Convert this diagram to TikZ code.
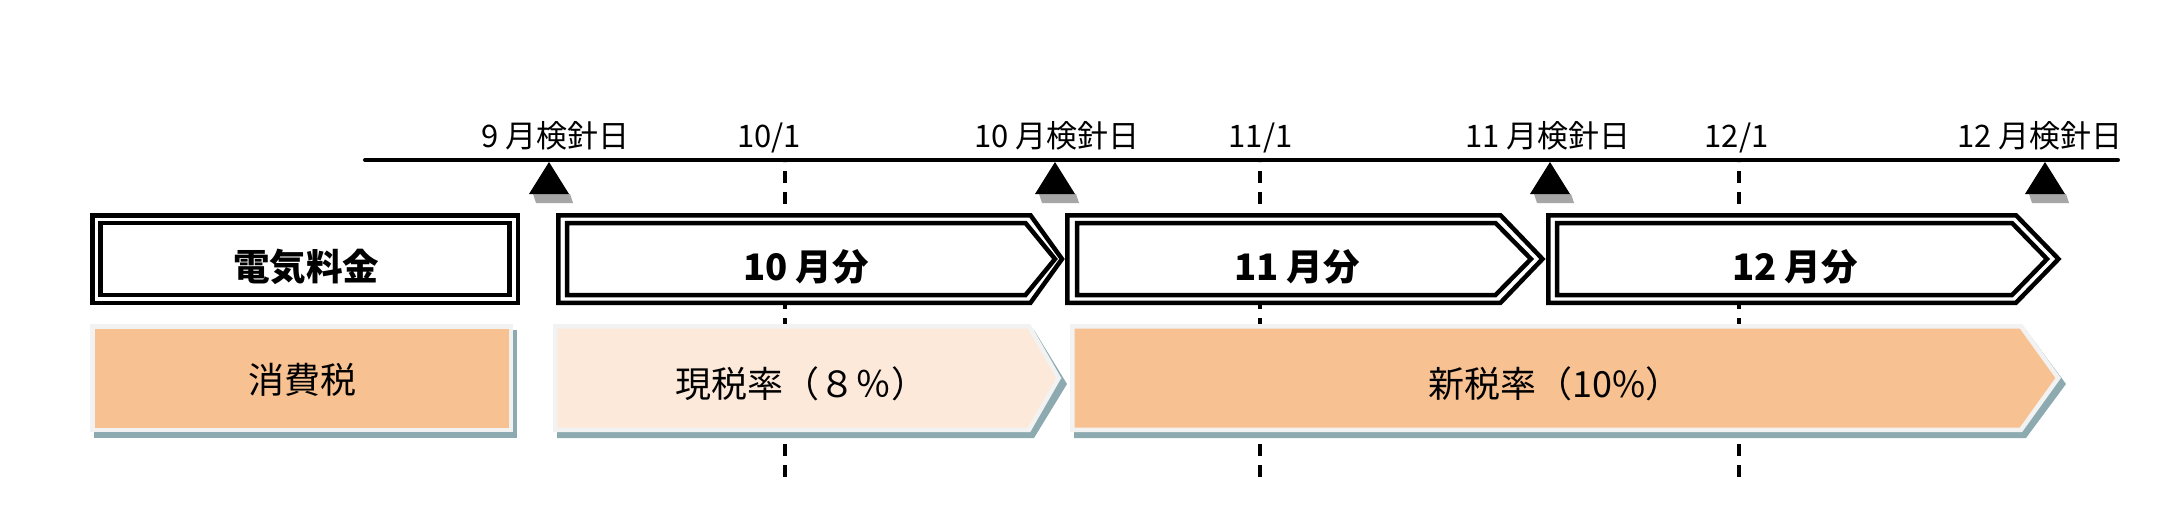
\documentclass[tikz,border=0pt]{standalone}
\usepackage{fontspec}
\newfontfamily\jpfont{Noto Sans CJK JP}
\definecolor{orangefill}{HTML}{F8C192}
\definecolor{peachfill}{HTML}{FCE9DA}
\definecolor{lightrim}{HTML}{F2F2F2}
\definecolor{boxshadow}{HTML}{8DAAB0}
\definecolor{markshadow}{HTML}{A6A6A6}
\tikzset{
  billline/.style={draw=black, line width=4.5pt, line join=miter, fill=white},
  billinner/.style={draw=black, line width=4.5pt, line join=miter},
  taxshape/.style={draw=lightrim, line width=4.5pt, line join=miter},
  taxshadow/.style={fill=boxshadow},
  datelabel/.style={anchor=base, inner sep=0pt, font=\jpfont\fontsize{31}{31}\selectfont},
  billlabel/.style={anchor=base, inner sep=0pt, font=\jpfont\bfseries\fontsize{36.5}{36.5}\selectfont},
  taxlabel/.style={anchor=base, inner sep=0pt, font=\jpfont\fontsize{36}{36}\selectfont},
  meterline/.style={line width=4pt, line cap=round},
  monthline/.style={line width=3.5pt, dash pattern=on 12.5pt off 8.5pt},
  readmark/.style={fill=black},
  readshadow/.style={fill=markshadow},
}
\begin{document}
\begin{tikzpicture}[x=1pt,y=-1pt]
\fill[white] (0,0) rectangle (2168,516);
% month boundaries (dashed)
\coordinate (d1top) at (785,162);  \coordinate (d1bot) at (785,477);
\coordinate (d2top) at (1260,162); \coordinate (d2bot) at (1260,477);
\coordinate (d3top) at (1739,162); \coordinate (d3bot) at (1739,477);
\draw[monthline] (d1bot) -- (d1top);
\draw[monthline] (d2bot) -- (d2top);
\draw[monthline] (d3bot) -- (d3top);
% time line
\coordinate (tlstart) at (365,160);
\coordinate (tlend) at (2118,160);
\draw[meterline] (tlstart) -- (tlend);
% meter reading marks
\fill[readshadow] (533,194) -- (570,194) -- (573,203) -- (536,203) -- cycle;
\fill[readmark] (549,162) -- (569,194) -- (529,194) -- cycle;
\fill[readshadow] (1039,194) -- (1076,194) -- (1079,203) -- (1042,203) -- cycle;
\fill[readmark] (1055,162) -- (1075,194) -- (1035,194) -- cycle;
\fill[readshadow] (1534,194) -- (1571,194) -- (1574,203) -- (1537,203) -- cycle;
\fill[readmark] (1550,162) -- (1570,194) -- (1530,194) -- cycle;
\fill[readshadow] (2029,194) -- (2066,194) -- (2069,203) -- (2032,203) -- cycle;
\fill[readmark] (2045,162) -- (2065,194) -- (2025,194) -- cycle;
% bill boxes
\draw[billline] (92.25,215.25) rectangle (517.75,302.75);
\draw[billinner] (100.5,223) rectangle (509.5,295);
\draw[billline] (1067.25,215.25) -- (1500.5,215.25) -- (1542.5,259) -- (1500.5,302.75) -- (1067.25,302.75) -- cycle;
\draw[billinner] (1077,223) -- (1495.5,223) -- (1531,259) -- (1495.5,295) -- (1077,295) -- cycle;
\draw[billline] (1548.25,215.25) -- (2016,215.25) -- (2058.5,259) -- (2016,302.75) -- (1548.25,302.75) -- cycle;
\draw[billinner] (1557,223) -- (2012,223) -- (2047,259) -- (2012,295) -- (1557,295) -- cycle;
\draw[billline] (558.25,215.25) -- (1030.5,215.25) -- (1062,259) -- (1030.5,302.75) -- (558.25,302.75) -- cycle;
\draw[billinner] (567,223) -- (1025.5,223) -- (1055,259) -- (1025.5,295) -- (567,295) -- cycle;
% tax shadows
\fill[taxshadow] (94,330) rectangle (517,438);
\fill[taxshadow] (557,330) -- (1034,330) -- (1067,384) -- (1034,438) -- (557,438) -- cycle;
\fill[taxshadow] (1074,330) -- (2026,330) -- (2066,384) -- (2026,438) -- (1074,438) -- cycle;
% tax boxes
\filldraw[taxshape, fill=orangefill] (92.25,326.25) rectangle (510.75,429.75);
\filldraw[taxshape, fill=peachfill] (555.25,326.25) -- (1029,326.25) -- (1058.7,378) -- (1029,429.75) -- (555.25,429.75) -- cycle;
\filldraw[taxshape, fill=orangefill] (1072.25,326.25) -- (2021,326.25) -- (2058.2,378) -- (2021,429.75) -- (1072.25,429.75) -- cycle;
% date labels
\node[datelabel] (lab9) at (555.5,147) {9 月検針日};
\node[datelabel] (lab101) at (769,147) {10/1};
\node[datelabel] (lab10) at (1057,147) {10 月検針日};
\node[datelabel] (lab111) at (1260.5,147) {11/1};
\node[datelabel] (lab11) at (1548,147) {11 月検針日};
\node[datelabel] (lab121) at (1736.5,147) {12/1};
\node[datelabel] (lab12) at (2040,147) {12 月検針日};
% bill labels
\node[billlabel] (billfee) at (306,280) {電気料金};
\node[billlabel] (bill10) at (806,280) {10 月分};
\node[billlabel] (bill11) at (1297,280) {11 月分};
\node[billlabel] (bill12) at (1795,280) {12 月分};
% tax labels
\node[taxlabel] (taxname) at (302,393.7) {消費税};
\node[taxlabel] (taxold) at (801,397.7) {現税率（８％）};
\node[taxlabel] (taxnew) at (1555,397.7) {新税率（10\%）};
\end{tikzpicture}
\end{document}
